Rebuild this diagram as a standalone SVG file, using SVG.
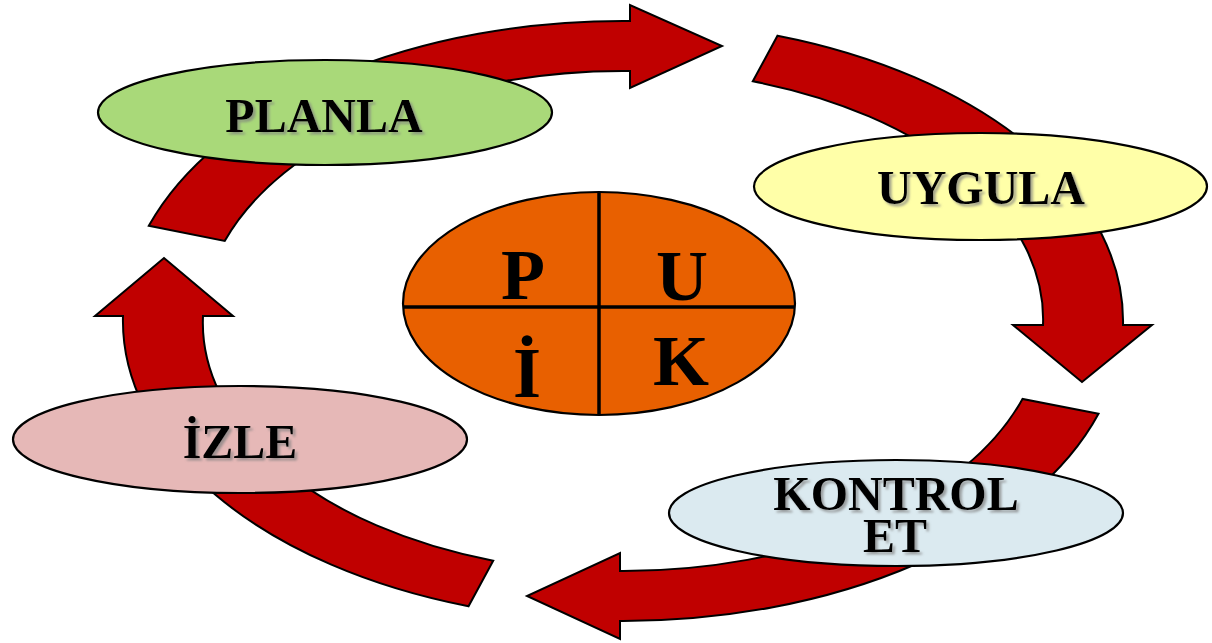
<svg xmlns="http://www.w3.org/2000/svg" width="1212" height="643" viewBox="0 0 1212 643">
  <defs>
    <filter id="txtShadow" x="-10%" y="-20%" width="130%" height="150%">
      <feDropShadow dx="2.5" dy="2.5" stdDeviation="1" flood-color="#7f7f7f" flood-opacity="0.7"/>
    </filter>
  </defs>
  <style>
    .arrow { fill: #c00000; stroke: #000; stroke-width: 2; stroke-linejoin: miter; }
    .node { stroke: #000; stroke-width: 2.2; }
    .label { font-family: "Liberation Serif", "Times New Roman", serif; font-weight: bold; font-size: 48px; fill: #000; text-anchor: middle; filter: url(#txtShadow); }
    .letter { font-family: "Liberation Serif", "Times New Roman", serif; font-weight: bold; font-size: 72px; fill: #000; text-anchor: middle; }
    .divider { stroke: #000; stroke-width: 3.5; }
  </style>
  <rect width="1212" height="643" fill="#fff"/>

  <!-- cycle arrows: segments of an elliptical ring centred at (623,321) -->
  <g id="connectors">
    <path class="arrow" d="M148.8,225.8 A500,300 0 0 1 630,21 L630,5 L722,46 L630,88 L630,71 A420,250 0 0 0 224.7,241 Z"/>
    <path class="arrow" d="M777.5,35.7 A500,300 0 0 1 1123,325 L1152,325 L1082,382 L1013,325 L1043,325 A420,250 0 0 0 752.8,81.3 Z"/>
    <path class="arrow" d="M1098.5,413.7 A500,300 0 0 1 620,621 L620,639 L527,596 L620,553 L620,571 A420,250 0 0 0 1022.5,398.9 Z"/>
    <path class="arrow" d="M468.5,606.3 A500,300 0 0 1 123,316 L95,316 L164,258 L233,316 L203,316 A420,250 0 0 0 493.2,560.7 Z"/>
  </g>

  <g id="planla">
    <ellipse class="node" cx="325" cy="112.5" rx="227" ry="52.5" fill="#a9d979"/>
    <text class="label" x="324" y="132">PLANLA</text>
  </g>

  <g id="uygula">
    <ellipse class="node" cx="980.5" cy="186.5" rx="226.5" ry="53.5" fill="#ffffa8"/>
    <text class="label" x="981" y="204">UYGULA</text>
  </g>

  <g id="kontrol-et">
    <ellipse class="node" cx="896" cy="513" rx="227" ry="53" fill="#dbeaf0"/>
    <text class="label" x="896" y="510">KONTROL<tspan x="895" y="552">ET</tspan></text>
  </g>

  <g id="izle">
    <ellipse class="node" cx="240" cy="439.5" rx="227" ry="53.5" fill="#e6b8b7"/>
    <text class="label" x="240" y="458">İZLE</text>
  </g>

  <!-- central PUKİ ellipse split into quadrants -->
  <g id="puki">
    <ellipse class="node" cx="599" cy="303.5" rx="196" ry="111.5" fill="#e86000"/>
    <line class="divider" x1="599" y1="192" x2="599" y2="415"/>
    <line class="divider" x1="403" y1="307" x2="795" y2="307"/>
    <text class="letter" x="523" y="299">P</text>
    <text class="letter" x="682" y="300">U</text>
    <text class="letter" x="527" y="397">İ</text>
    <text class="letter" x="681" y="385">K</text>
  </g>
</svg>
